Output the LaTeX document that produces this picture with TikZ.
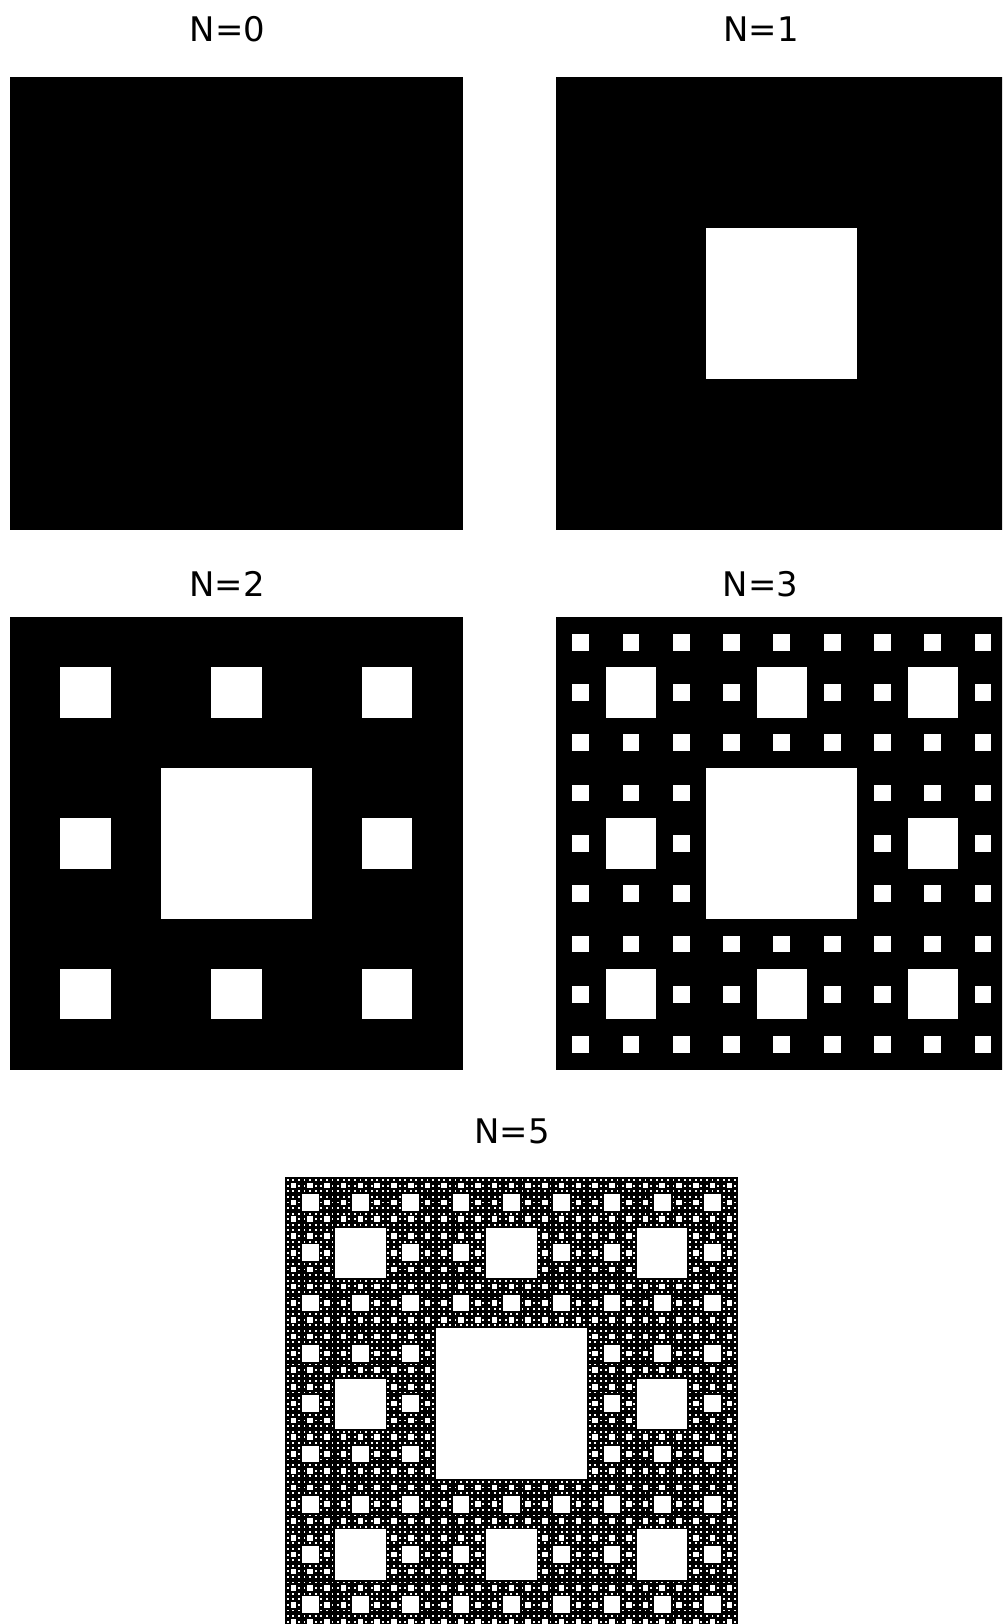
\documentclass[tikz,border=0pt]{standalone}
\usepackage{fontspec}
\setmainfont{DejaVu Sans}
\tikzset{
  solidsq/.style={fill=black},
  hole/.style={fill=white},
  ttl/.style={anchor=base, inner sep=0pt, font=\fontsize{33.9}{40}\selectfont}
}
\newcommand\mycarpet[4]{%
  \ifnum#4>0\relax
  \begingroup
    \pgfmathsetmacro\cts{#3/3}%
    \pgfmathtruncatemacro\cnl{#4-1}%
    \fill[hole] ({#1+\cts},{#2+\cts}) rectangle +(\cts,\cts);
    \ifnum\cnl>0\relax
    \foreach \ci in {0,1,2}{%
      \foreach \cj in {0,1,2}{%
        \ifnum\ci\cj=11\relax\else
          \pgfmathsetmacro\cxx{#1+\ci*\cts}%
          \pgfmathsetmacro\cyy{#2+\cj*\cts}%
          \edef\cnext{\noexpand\mycarpet{\cxx}{\cyy}{\cts}{\cnl}}%
          \cnext
        \fi}}%
    \fi
  \endgroup
  \fi}
\begin{document}
\begin{tikzpicture}[x=1pt,y=-1pt]
\useasboundingbox (0,0) rectangle (1002,1624);
\clip (0,0) rectangle (1002,1624);
\fill[white] (0,0) rectangle (1002,1624);
\def\sz{452.7}
% N=0
\node[ttl] (t0) at (227.5,41.7) {N=0};
\fill[solidsq] (10,77.3) rectangle +(\sz,\sz);
% N=1
\node[ttl] (t1) at (761,41.7) {N=1};
\fill[solidsq] (555.5,77.3) rectangle +(\sz,\sz);
\mycarpet{555.5}{77.3}{\sz}{1}
% N=2
\node[ttl] (t2) at (227,596.7) {N=2};
\fill[solidsq] (10,617) rectangle +(\sz,\sz);
\mycarpet{10}{617}{\sz}{2}
% N=3
\node[ttl] (t3) at (760.5,596.7) {N=3};
\fill[solidsq] (555.5,617) rectangle +(\sz,\sz);
\mycarpet{555.5}{617}{\sz}{3}
% N=5
\node[ttl] (t5) at (512,1143.3) {N=5};
\fill[solidsq] (285,1177.3) rectangle +(\sz,\sz);
\mycarpet{285}{1177.3}{\sz}{5}
\end{tikzpicture}
\end{document}
